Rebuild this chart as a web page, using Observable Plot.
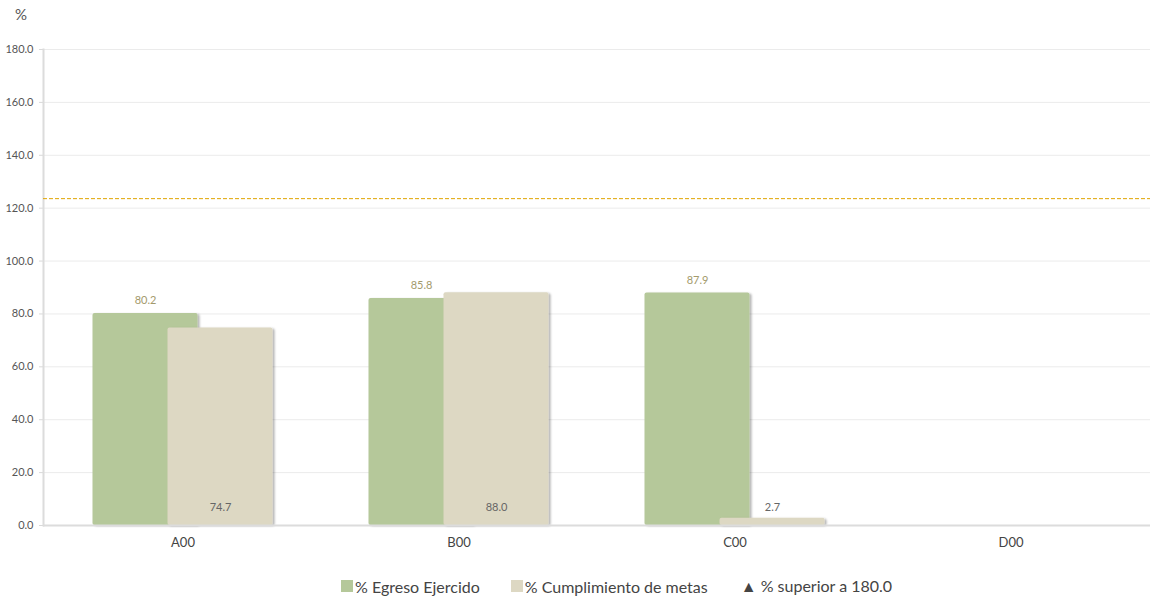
<!DOCTYPE html>
<html>
<head>
<meta charset="utf-8">
<script src="https://cdn.jsdelivr.net/npm/d3@7"></script>
<script src="https://cdn.jsdelivr.net/npm/@observablehq/plot@0.6"></script>
<style>
  html, body { margin: 0; padding: 0; background: #fff; }
  body { width: 1150px; height: 597px; position: relative; font-family: Lato, "Open Sans", sans-serif; overflow: hidden; }
  #unit { position: absolute; left: 15px; top: 5px; font-size: 15px; color: #555; }
  #chart svg { display: block; }
  #legend { position: absolute; left: 341px; top: 576px; display: flex; align-items: center; font-size: 16px; color: #444; white-space: nowrap; }
  .item { display: flex; align-items: center; }
  .sw { width: 12px; height: 12px; margin-right: 2px; display: inline-block; }
</style>
</head>
<body>
<div id="chart"></div>
<div id="unit">%</div>
<div id="legend"></div>
<script>
const categories = ["A00", "B00", "C00", "D00"];
const egresoEjercido = [80.2, 85.8, 87.9, null];
const cumplimientoMetas = [74.7, 88.0, 2.7, null];
const yTicks = [0, 20, 40, 60, 80, 100, 120, 140, 160, 180];
const referenceLine = [123.6];
const seriesNames = ["% Egreso Ejercido", "% Cumplimiento de metas"];
const seriesColors = ["#b5c89a", "#ddd8c3"];
const overflowNote = "▲ % superior a 180.0";

const green = categories.map((c, i) => ({cat: c, v: egresoEjercido[i]})).filter(d => d.v != null);
const beige = categories.map((c, i) => ({cat: c, v: cumplimientoMetas[i]})).filter(d => d.v != null);

const chart = Plot.plot({
  width: 1150,
  height: 565,
  marginTop: 49,
  marginBottom: 40,
  marginLeft: 43,
  marginRight: 0,
  style: {fontFamily: "Lato, 'Open Sans', sans-serif", background: "#fff"},
  x: {domain: categories, paddingInner: 0.62, paddingOuter: 0.31, label: null},
  y: {domain: [0, 180], label: null},
  marks: [
    Plot.gridY(yTicks, {stroke: "#ebebeb", strokeOpacity: 1, strokeWidth: 1}),
    Plot.axisY({ticks: yTicks, tickFormat: d => d.toFixed(1), tickSize: 4, tickPadding: 6, stroke: "#d9d9d9", fill: "#555", fontSize: 11, label: null}),
    Plot.frame({anchor: "left", stroke: "#dcdcdc", strokeWidth: 2}),
    Plot.barY(green, {x: "cat", y: "v", dx: -37.5, fill: seriesColors[0], rx: 2}),
    Plot.barY(beige, {x: "cat", y: "v", dx: 37.5, fill: seriesColors[1], rx: 2}),
    Plot.ruleY([0], {stroke: "#dcdcdc", strokeWidth: 2}),
    Plot.ruleY(referenceLine, {stroke: "#e0a500", strokeWidth: 1, strokeDasharray: "4,2"}),
    Plot.text(green, {x: "cat", y: "v", dx: -37.5, dy: -13, text: d => d.v.toFixed(1), fill: "#a39a6c", fontSize: 11}),
    Plot.text(beige, {x: "cat", y: () => 0, dx: 37.5, dy: -18, text: d => d.v.toFixed(1), fill: "#666", fontSize: 11}),
    Plot.axisX({tickSize: 0, tickPadding: 12, fill: "#444", fontSize: 13, label: null})
  ]
});

// drop shadow for bars
const svg = d3.select(chart);
const defs = svg.insert("defs", ":first-child");
const f = defs.append("filter").attr("id", "barshadow").attr("x", "-10%").attr("y", "-10%").attr("width", "130%").attr("height", "130%");
f.append("feDropShadow").attr("dx", 2).attr("dy", 1).attr("stdDeviation", 1.2).attr("flood-color", "#000").attr("flood-opacity", 0.3);
svg.selectAll("g[aria-label='bar']").attr("filter", "url(#barshadow)");

document.getElementById("chart").appendChild(chart);

const legend = d3.select("#legend");
seriesNames.forEach((name, i) => {
  const it = legend.append("div").attr("class", "item").style("margin-right", i === 0 ? "31px" : "33px");
  it.append("span").attr("class", "sw").style("background", seriesColors[i]);
  it.append("span").text(name);
});
legend.append("div").attr("class", "item").text(overflowNote);
</script>
</body>
</html>
